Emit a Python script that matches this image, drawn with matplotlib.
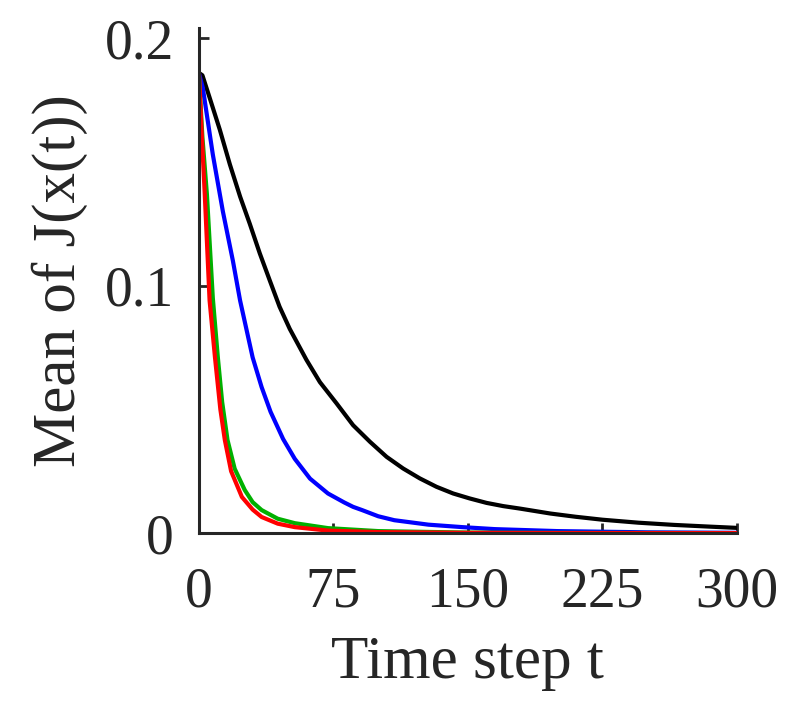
import matplotlib
matplotlib.use('Agg')
import matplotlib.pyplot as plt

# values
t_black = [0, 2, 6, 11.7, 17.3, 23, 28.4, 34, 39.6, 45, 50.7, 60, 67.5, 76.8, 86, 95.4, 104.7, 113.9, 123.2, 132.5, 141.8, 151, 160.4, 169.7, 179, 196, 210, 225, 245, 265, 285, 300]
v_black = [0.186, 0.185, 0.176, 0.163, 0.149, 0.136, 0.125, 0.113, 0.102, 0.0915, 0.0825, 0.070, 0.061, 0.0524, 0.0436, 0.0369, 0.0308, 0.0261, 0.0221, 0.0187, 0.016, 0.014, 0.0122, 0.0109, 0.0099, 0.0079, 0.0066, 0.0054, 0.0042, 0.0033, 0.0026, 0.0021]

t_blue = [0, 2.2, 7.8, 13.4, 19, 23, 30, 35, 40, 47, 53.5, 62, 67.5, 72, 81, 86, 91, 100, 109, 128, 147, 165, 200, 250, 300]
v_blue = [0.186, 0.180, 0.153, 0.130, 0.110, 0.094, 0.071, 0.059, 0.049, 0.038, 0.030, 0.022, 0.0187, 0.016, 0.0124, 0.0106, 0.0093, 0.0068, 0.0052, 0.0034, 0.0024, 0.0016, 0.0008, 0.0003, 0.0001]

t_green = [0, 2, 4.5, 7.8, 10.6, 13, 16, 20, 25.6, 30, 35, 44, 53.5, 72, 100, 150, 200, 300]
v_green = [0.186, 0.160, 0.137, 0.095, 0.071, 0.053, 0.0376, 0.026, 0.0174, 0.0125, 0.0093, 0.0058, 0.004, 0.002, 0.0008, 0.0002, 0.0001, 0.0]

t_red = [0, 1.5, 3.3, 6, 9, 12, 14.5, 18, 24, 30, 35, 44, 53.5, 72, 100, 150, 200, 300]
v_red = [0.187, 0.163, 0.137, 0.094, 0.071, 0.050, 0.0376, 0.025, 0.0146, 0.0095, 0.0065, 0.0038, 0.0024, 0.001, 0.0004, 0.0001, 0.0, 0.0]

xticks = [0, 75, 150, 225, 300]
yticks = [0, 0.1, 0.2]
ytick_labels = ['0', '0.1', '0.2']

plt.rcParams['font.family'] = ['Liberation Serif', 'DejaVu Serif']
txt = '#262626'

fig = plt.figure(figsize=(7.89, 7.07), dpi=100)
ax = fig.add_axes([0.252, 0.246, 0.682, 0.714])

ax.plot(t_black, v_black, color='black', lw=3)
ax.plot(t_blue, v_blue, color='#0000ff', lw=3)
ax.plot(t_green, v_green, color='#00b000', lw=3)
ax.plot(t_red, v_red, color='#ff0000', lw=3)

ax.set_xlim(0, 300)
ax.set_ylim(0, 0.204)
ax.set_xticks(xticks)
ax.set_xticklabels([str(x) for x in xticks])
ax.set_yticks(yticks)
ax.set_yticklabels(ytick_labels)

for s in ['top', 'right']:
    ax.spines[s].set_visible(False)
for s in ['left', 'bottom']:
    ax.spines[s].set_color(txt)
    ax.spines[s].set_linewidth(2.2)

ax.tick_params(direction='in', length=7, width=2, colors=txt, labelsize=40)
ax.tick_params(axis='x', pad=24)
ax.tick_params(axis='y', pad=18)
ax.set_xlabel('Time step t', fontsize=44, color=txt, labelpad=12)
ax.set_ylabel('Mean of J(x(t))', fontsize=44, color=txt, labelpad=12)

fig.savefig('out.png', dpi=100)
